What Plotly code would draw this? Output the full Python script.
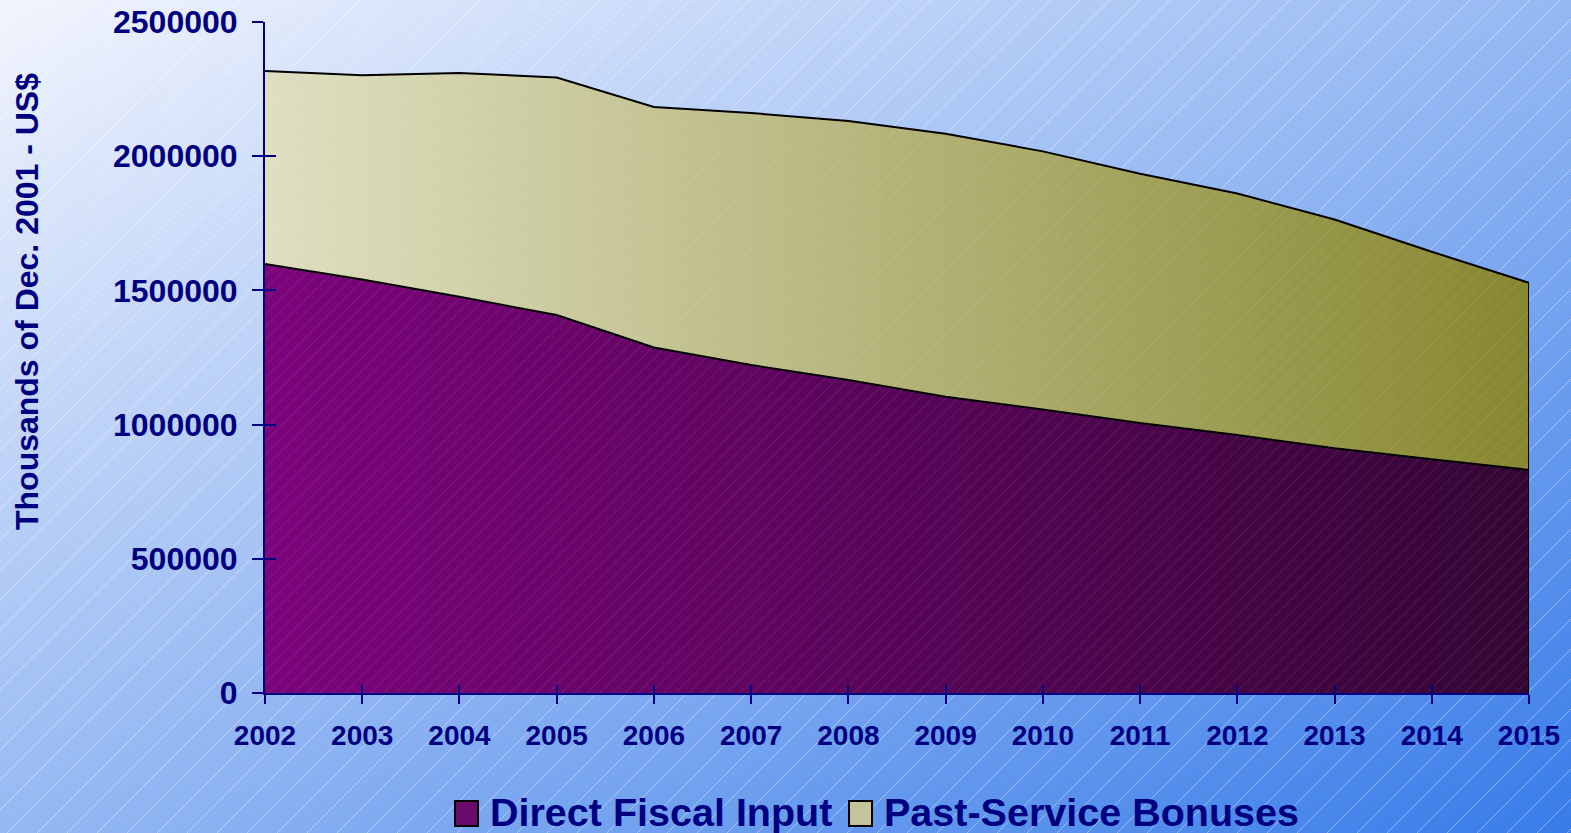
import base64
import plotly.graph_objects as go

# Data (thousands of Dec. 2001 US$)
years = [2002, 2003, 2004, 2005, 2006, 2007, 2008, 2009, 2010, 2011, 2012, 2013, 2014, 2015]
direct_fiscal_input = [1598000, 1541000, 1476000, 1408000, 1287000, 1222000, 1166000,
                       1104000, 1056000, 1006000, 961500, 912000, 871000, 831000]
past_service_bonuses = [719000, 761000, 834000, 885000, 896000, 939000, 965000,
                        980000, 962000, 929000, 899500, 852000, 773000, 697000]
y_ticks = [0, 500000, 1000000, 1500000, 2000000, 2500000]

series_names = ["Direct Fiscal Input", "Past-Service Bonuses"]
total = [d + p for d, p in zip(direct_fiscal_input, past_service_bonuses)]

NAVY = "#000080"
FONT = "Liberation Sans, Arial, sans-serif"

W, H = 1571, 833
L, R, T, B = 265, 42, 22, 140
PW, PH = W - L - R, H - T - B


def px_x(x):
    return (x - L) / PW


def px_y(y):
    return (H - B - y) / PH


# page background: diagonal gradient with fine white hatching
svg = f'''<svg xmlns="http://www.w3.org/2000/svg" width="{W}" height="{H}" viewBox="0 0 {W} {H}" preserveAspectRatio="none">
<defs>
<linearGradient id="g" x1="0" y1="0" x2="1" y2="1">
<stop offset="0" stop-color="#f3f5fd"/>
<stop offset="1" stop-color="#387ce9"/>
</linearGradient>
<pattern id="h" patternUnits="userSpaceOnUse" width="30" height="30">
<path d="M-3,3 L3,-3 M0,30 L30,0 M27,33 L33,27" stroke="#ffffff" stroke-opacity="0.4" stroke-width="1"/>
</pattern>
</defs>
<rect width="{W}" height="{H}" fill="url(#g)"/>
<rect width="{W}" height="{H}" fill="url(#h)"/>
</svg>'''
bg_src = "data:image/svg+xml;base64," + base64.b64encode(svg.encode()).decode()

fig = go.Figure()

# stacked areas with gradient fills
fig.add_trace(go.Scatter(
    x=years, y=direct_fiscal_input, mode="lines", name=series_names[0],
    line=dict(color="black", width=2), fill="tozeroy",
    fillgradient=dict(type="horizontal", colorscale=[[0, "#7c047c"], [1, "#340634"]]),
    showlegend=False, hoverinfo="skip"))
fig.add_trace(go.Scatter(
    x=years, y=total, mode="lines", name=series_names[1],
    line=dict(color="black", width=2), fill="tonexty",
    fillgradient=dict(type="horizontal", colorscale=[[0, "#dfdfc1"], [1, "#878730"]]),
    showlegend=False, hoverinfo="skip"))

# faint hatching on top of the fills
fig.add_trace(go.Scatter(
    x=years, y=direct_fiscal_input, mode="lines", line=dict(width=0),
    fill="tozeroy", fillcolor="rgba(0,0,0,0)",
    fillpattern=dict(shape="/", fgcolor="white", fgopacity=0.14, size=9, solidity=0.08,
                     bgcolor="rgba(0,0,0,0)"),
    showlegend=False, hoverinfo="skip"))
fig.add_trace(go.Scatter(
    x=years, y=total, mode="lines", line=dict(width=0),
    fill="tonexty", fillcolor="rgba(0,0,0,0)",
    fillpattern=dict(shape="/", fgcolor="white", fgopacity=0.14, size=9, solidity=0.08,
                     bgcolor="rgba(0,0,0,0)"),
    showlegend=False, hoverinfo="skip"))

# closing edge of the stacked area at the last year
fig.add_trace(go.Scatter(
    x=[years[-1], years[-1]], y=[0, total[-1]], mode="lines",
    line=dict(color="black", width=2), showlegend=False, hoverinfo="skip"))

# twin axes so ticks cross the axis lines
fig.add_trace(go.Scatter(
    x=years, y=total, xaxis="x2", yaxis="y2", mode="lines",
    line=dict(width=0, color="rgba(0,0,0,0)"), showlegend=False, hoverinfo="skip"))

tickfont_y = dict(family=FONT, size=32, color=NAVY, weight="bold")
tickfont_x = dict(family=FONT, size=28, color=NAVY, weight="bold")

fig.update_layout(
    width=W, height=H,
    margin=dict(l=L, r=R, t=T, b=B, autoexpand=False),
    paper_bgcolor="#c8d4f6",
    plot_bgcolor="rgba(0,0,0,0)",
    font=dict(family=FONT, color=NAVY),
    showlegend=False,
    xaxis=dict(range=[years[0], years[-1]], tickmode="array", tickvals=years,
               ticktext=[str(y) for y in years], ticks="outside", ticklen=9,
               tickwidth=2, tickcolor=NAVY, showline=True, linecolor=NAVY, linewidth=2,
               showgrid=False, zeroline=False, tickfont=tickfont_x,
               ticklabelstandoff=7, automargin=False, layer="above traces"),
    yaxis=dict(range=[0, 2500000], tickmode="array", tickvals=y_ticks,
               ticktext=[str(v) for v in y_ticks], ticks="outside", ticklen=11,
               tickwidth=2, tickcolor=NAVY, showline=True, linecolor=NAVY, linewidth=2,
               showgrid=False, zeroline=False, tickfont=tickfont_y,
               ticklabelstandoff=8, automargin=False, layer="above traces"),
    xaxis2=dict(range=[years[0], years[-1]], overlaying="x", anchor="y2",
                tickmode="array", tickvals=years, ticks="inside", ticklen=8,
                tickwidth=2, tickcolor=NAVY, showticklabels=False, showline=False,
                showgrid=False, zeroline=False, automargin=False),
    yaxis2=dict(range=[0, 2500000], overlaying="y", side="left", anchor="x2",
                tickmode="array", tickvals=y_ticks, ticks="inside", ticklen=11,
                tickwidth=2, tickcolor=NAVY, showticklabels=False, showline=False,
                showgrid=False, zeroline=False, automargin=False),
    images=[dict(source=bg_src, xref="paper", yref="paper",
                 x=px_x(0), y=px_y(0), sizex=W / PW, sizey=H / PH,
                 xanchor="left", yanchor="top", sizing="stretch", layer="below")],
)

# y-axis title
fig.add_annotation(text="<b>Thousands of Dec. 2001 - US$</b>", textangle=-90,
                   xref="paper", yref="paper", x=px_x(27), y=px_y(302),
                   xanchor="center", yanchor="middle", showarrow=False,
                   font=dict(family=FONT, size=32, color=NAVY))

# legend: swatches and labels
legend_items = [
    (series_names[0], 455, 488, "#6a0a6a"),
    (series_names[1], 849, 882, "#c4c49a"),
]
for label, box_x, text_x, color in legend_items:
    fig.add_shape(type="rect", xref="paper", yref="paper",
                  x0=px_x(box_x), x1=px_x(box_x + 23), y0=px_y(826), y1=px_y(801),
                  fillcolor=color, line=dict(color="black", width=2))
    fig.add_annotation(text=f"<b>{label}</b>", xref="paper", yref="paper",
                       x=px_x(text_x), y=px_y(812), xanchor="left", yanchor="middle",
                       showarrow=False, font=dict(family=FONT, size=39.5, color=NAVY))

fig.write_html("out.html")
